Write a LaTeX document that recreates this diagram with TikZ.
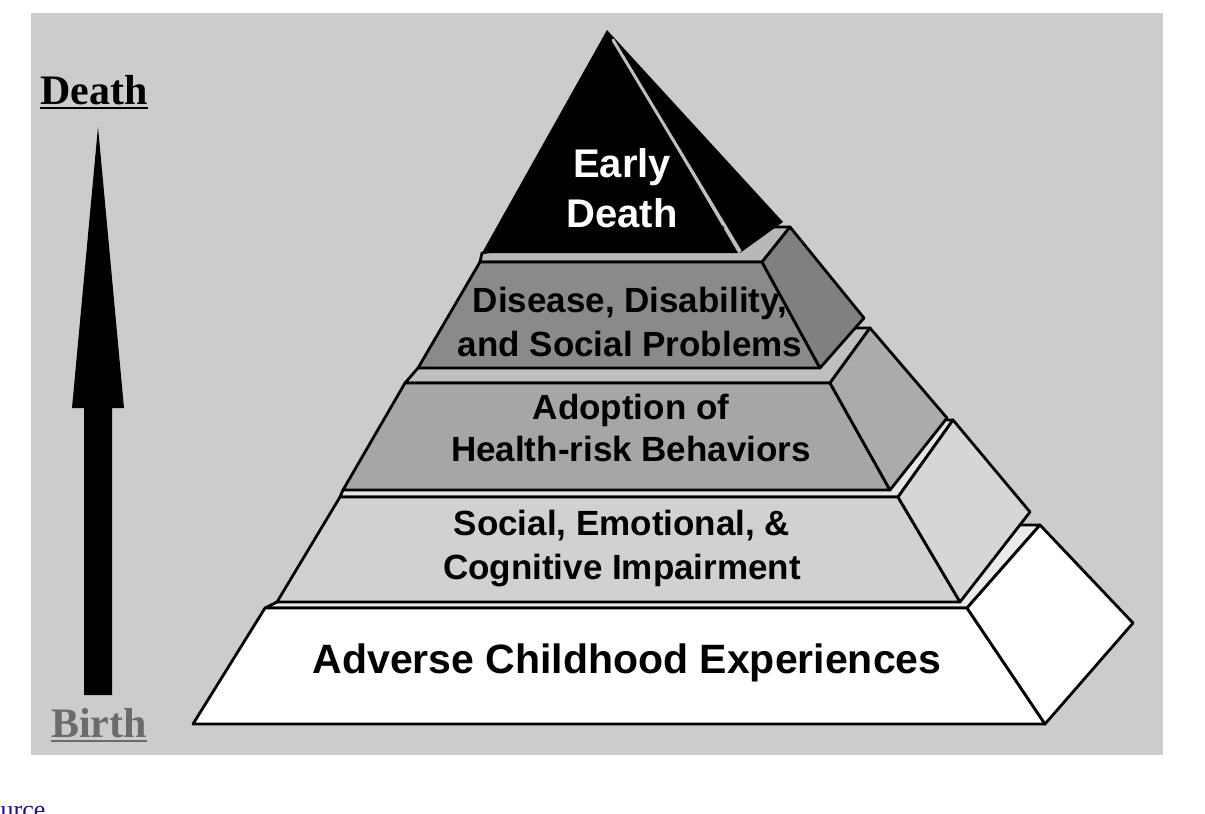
\documentclass[tikz,border=0pt]{standalone}
\usepackage{fontspec}
\setmainfont{Liberation Serif}
\newfontfamily\labelfont{Liberation Sans}
\definecolor{linkblue}{RGB}{26,13,171}
\begin{document}
\begin{tikzpicture}[x=1pt, y=-1pt, line join=round, line cap=round,
		edge/.style={draw=black, line width=2.8pt},
		lvltext/.style={font=\labelfont\bfseries\fontsize{35}{44}\selectfont, align=center, inner sep=0pt},
		sidetext/.style={font=\bfseries\fontsize{42}{46}\selectfont, inner sep=0pt}]
		\useasboundingbox (0,0) rectangle (1205,814);
		\fill[black!20] (31,13) rectangle (1163,755);
		% base layer
		\filldraw[edge, fill=black!8] (265,608) -- (967,608) -- (1040,525) -- (600,525) -- (277,602) -- cycle;
		\filldraw[edge, fill=white] (193,724) -- (1045,724) -- (967,608) -- (265,608) -- cycle;
		\filldraw[edge, fill=white] (967,608) -- (1040,525) -- (1133,623) -- (1045,724) -- cycle;
		% impairment layer
		\filldraw[edge, fill=black!10] (340,497) -- (898,497) -- (953,420) -- (600,420) -- (343,490) -- cycle;
		\filldraw[edge, fill=black!18] (277,602) -- (960,602) -- (898,497) -- (340,497) -- cycle;
		\filldraw[edge, fill=black!16] (898,497) -- (953,420) -- (1030,512) -- (960,602) -- cycle;
		% behaviour layer
		\filldraw[edge, fill=black!25] (405,383) -- (830,383) -- (870,328) -- (620,328) -- (418,368) -- cycle;
		\filldraw[edge, fill=black!35] (343,490) -- (890,490) -- (830,383) -- (405,383) -- cycle;
		\filldraw[edge, fill=black!33] (830,383) -- (870,328) -- (947,418) -- (890,490) -- cycle;
		% disease layer
		\filldraw[edge, fill=black!28] (480,262) -- (762,262) -- (790,227) -- (620,227) -- (482,253) -- cycle;
		\filldraw[edge, fill=black!46] (418,368) -- (820,368) -- (762,262) -- (480,262) -- cycle;
		\filldraw[edge, fill=black!50] (762,262) -- (790,227) -- (864,318) -- (820,368) -- cycle;
		% top
		\fill[black] (607,30) -- (783,222) -- (740,253) -- cycle;
		\fill[black] (607,30) -- (738,253) -- (482,253) -- cycle;
		\draw[black!25, line width=3pt] (613,40) -- (740,251);

		\node[lvltext, text=white, font=\labelfont\bfseries\fontsize{40}{50}\selectfont] (early) at (622,188) {Early\\Death};
		\node[lvltext] (disease) at (630,322) {Disease, Disability,\\and Social Problems};
		\node[lvltext, font=\labelfont\bfseries\fontsize{35}{42}\selectfont] (adopt) at (631,428) {Adoption of\\Health-risk Behaviors};
		\node[lvltext] (impair) at (622,549) {Social, Emotional, \&\\Cognitive Impairment};
		\node[lvltext, anchor=base, font=\labelfont\bfseries\fontsize{41}{46}\selectfont] (ace) at (627,673) {Adverse Childhood Experiences};

		\fill[black] (98,127) -- (124,408) -- (112,408) -- (112,695) -- (84,695) -- (84,408) -- (72,408) -- cycle;
		\node[sidetext, anchor=base west] (death) at (40,104) {Death};
		\draw[line width=2.5pt, line cap=butt] ([yshift=-4pt]death.base west) -- ([yshift=-4pt]death.base east);
		\node[sidetext, anchor=base west, text=black!58] (birth) at (51,737) {Birth};
		\draw[black!58, line width=2.5pt, line cap=butt] ([yshift=-4pt]birth.base west) -- ([yshift=-4pt]birth.base east);
		\node[anchor=base west, inner sep=0pt, text=linkblue, font=\fontsize{26}{30}\selectfont] (source) at (-27,818) {Source};
\end{tikzpicture}
\end{document}
